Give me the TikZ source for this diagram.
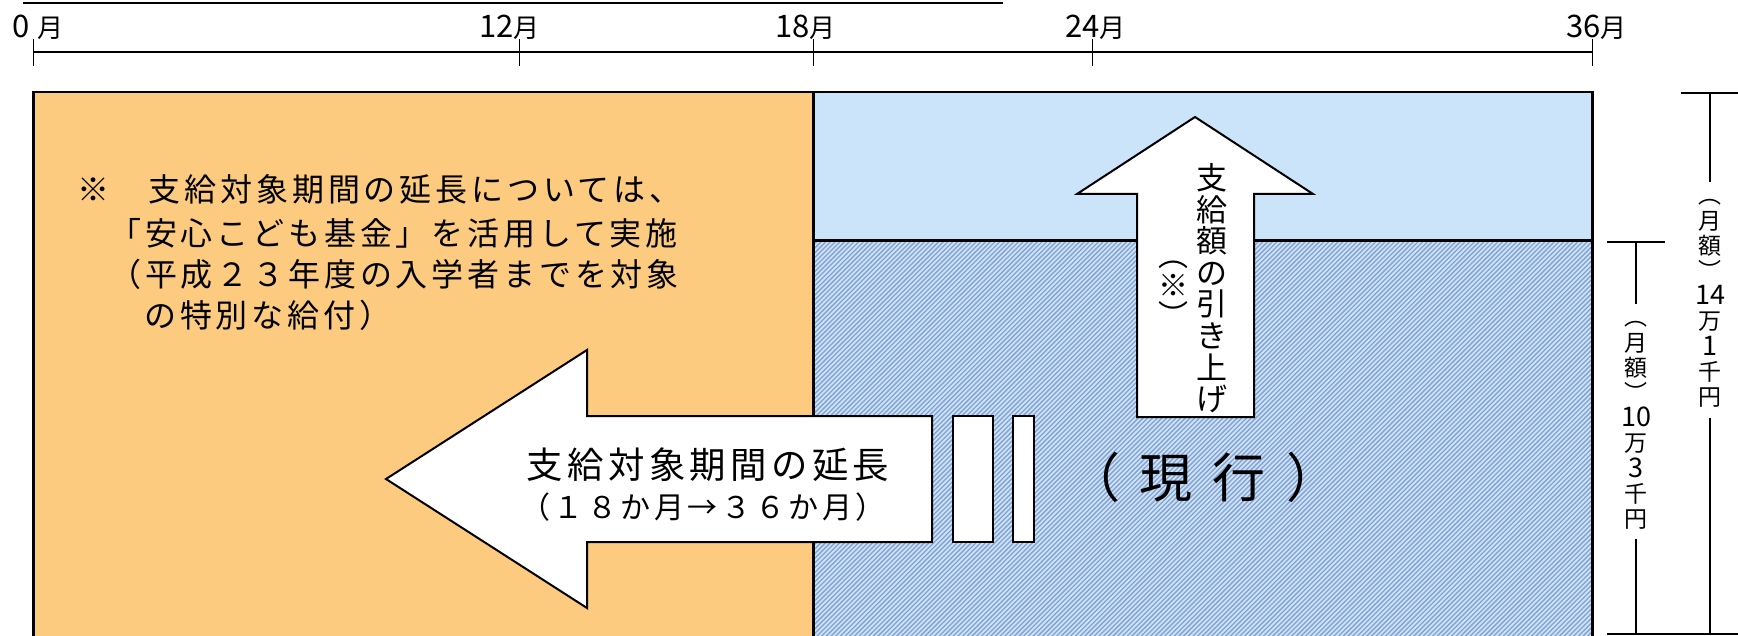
\documentclass[tikz,border=0pt]{standalone}
\usepackage{fontspec}
\newfontfamily\jp[LetterSpace=12]{Noto Sans CJK JP}
\newfontfamily\jpn{Noto Sans CJK JP}
\definecolor{orangefill}{RGB}{253,203,128}
\definecolor{bluefill}{RGB}{204,228,250}
\definecolor{hatchbg}{RGB}{200,229,244}
\definecolor{hatchln}{RGB}{138,158,214}
\newcommand\vst{\rule[-\dimexpr0.5\baselineskip-0.38em\relax]{0pt}{\baselineskip}}
\newcommand\dg[1]{{\fontsize{27}{25.2}\selectfont #1}}
\tikzset{
  frameline/.style={line width=2.6pt},
  axisline/.style={line width=2.2pt},
  tickline/.style={line width=1.5pt},
  dimline/.style={line width=1.6pt},
  hatchline/.style={hatchln,line width=1.3pt},
  arrowshape/.style={draw=black,line width=2pt,fill=white,line join=miter},
  axlabel/.style={font=\jpn\fontsize{26}{26}\selectfont,anchor=base west,inner sep=0pt},
  note/.style={font=\jp\fontsize{32}{32}\selectfont,anchor=base west,inner sep=0pt},
  bigtxt/.style={font=\jp\fontsize{36.4}{36.4}\selectfont,anchor=base,inner sep=0pt},
  midtxt/.style={font=\jp\fontsize{30}{30}\selectfont,anchor=base,inner sep=0pt},
  hugetxt/.style={font=\jpn\fontsize{53}{53}\selectfont,anchor=base,inner sep=0pt},
  vcolA/.style={font=\jpn\fontsize{31}{31.6}\selectfont,align=center,inner sep=0pt},
  vcolB/.style={font=\jpn\fontsize{30}{30}\selectfont,align=center,inner sep=0pt},
  vcolC/.style={font=\jpn\fontsize{23}{25.2}\selectfont,align=center,inner sep=0pt},
}
\begin{document}
\begin{tikzpicture}[x=1pt,y=-1pt]
\useasboundingbox (0,0) rectangle (1738,636);
\clip (0,0) rectangle (1738,636);
% top underline (title cut off)
\coordinate (ul1) at (23,3); \coordinate (ul2) at (1003,3);
\draw[line width=1.5pt] (ul1) -- (ul2);
% axis
\coordinate (a0) at (33.5,52); \coordinate (a36) at (1592.5,52);
\draw[axisline] (a0) -- (a36);
\foreach \x in {33.5,519.5,813.5,1092.5,1592.5}{\draw[tickline] (\x,39) -- (\x,66);}
\node[axlabel] (l0) at (12,37.5) {{\fontsize{31}{31}\selectfont 0}\hspace{8pt}月};
\node[axlabel] (l12) at (479,37.5) {{\fontsize{31}{31}\selectfont 12}月};
\node[axlabel] (l18) at (775,37.5) {{\fontsize{31}{31}\selectfont 18}月};
\node[axlabel] (l24) at (1065,37.5) {{\fontsize{31}{31}\selectfont 24}月};
\node[axlabel] (l36) at (1566,37.5) {{\fontsize{31}{31}\selectfont 36}月};
% fills
\fill[orangefill] (33.5,92) rectangle (813.5,640);
\fill[bluefill] (813.5,92) rectangle (1592.5,240.5);
\begin{scope}
  \clip (813.5,240.5) rectangle (1592.5,640);
  \fill[hatchbg] (813.5,240.5) rectangle (1592.5,640);
  \foreach \i in {0,...,255}{\draw[hatchline] (413.5+\i*4.7,640) -- ++(400,-400);}
\end{scope}
% frame lines
\draw[frameline,line join=miter] (33.5,645) -- (33.5,92) -- (1592.5,92) -- (1592.5,645);
\draw[frameline] (813.5,92) -- (813.5,645);
\draw[frameline] (813.5,240.5) -- (1592.5,240.5);
% left text
\node[note] (n1) at (77,202) {※　支給対象期間の延長については、};
\node[note] (n2) at (109,246) {「安心こども基金」を活用して実施};
\node[note] (n3) at (109,287) {（平成２３年度の入学者までを対象};
\node[note] (n4) at (144,328) {の特別な給付）};
% left arrow
\path[arrowshape] (386,479) -- (587,350) -- (587,416) -- (932,416) -- (932,542) -- (587,542) -- (587,608) -- cycle;
\node[bigtxt] (ext1) at (708,478) {支給対象期間の延長};
\node[midtxt] (ext2) at (703,518) {（１８か月→３６か月）};
% equal bars
\path[arrowshape] (953,416) rectangle (993,542);
\path[arrowshape] (1013,416) rectangle (1034,542);
% current
\node[hugetxt] (cur) at (1203,497) {（\hspace{20pt}現\hspace{20pt}行\hspace{20pt}）};
% up arrow
\path[arrowshape] (1195,117) -- (1313,194) -- (1254,194) -- (1254,417) -- (1137,417) -- (1137,194) -- (1077,194) -- cycle;
\node[vcolA] (up1) at (1212,288.3) {\vst 支\\\vst 給\\\vst 額\\\vst の\\\vst 引\\\vst き\\\vst 上\\\vst げ};
\node[vcolB] (up2) at (1173,285) {\vst ︵\\\vst ※\\\vst ︶};
% right dimension labels
\node[vcolC] (lab14) at (1710,296) {\vst ︵\\\vst 月\\\vst 額\\\vst ︶\\\vst \dg{14}\\\vst 万\\\vst \dg{1}\\\vst 千\\\vst 円};
\node[vcolC] (lab10) at (1636,418) {\vst ︵\\\vst 月\\\vst 額\\\vst ︶\\\vst \dg{10}\\\vst 万\\\vst \dg{3}\\\vst 千\\\vst 円};
\coordinate (otopL) at (1681,93); \coordinate (otopR) at (1740,93);
\coordinate (otop) at (1710,93); \coordinate (obot) at (1710,634);
\coordinate (itopL) at (1607,242); \coordinate (itopR) at (1665,242);
\coordinate (itop) at (1636,242); \coordinate (ibot) at (1636,634);
\coordinate (botL) at (1607,634); \coordinate (botR) at (1740,634);
\draw[dimline] (otopL) -- (otopR);
\draw[dimline] (otop) -- (lab14.north);
\draw[dimline,shorten <=8pt] (lab14.south) -- (obot);
\draw[dimline] (itopL) -- (itopR);
\draw[dimline] (itop) -- (lab10.north);
\draw[dimline,shorten <=7pt] (lab10.south) -- (ibot);
\draw[dimline] (botL) -- (botR);
\end{tikzpicture}
\end{document}
